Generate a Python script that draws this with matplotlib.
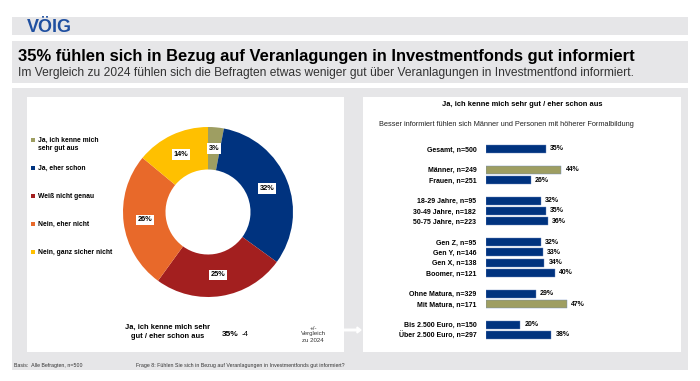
import matplotlib
matplotlib.use("Agg")
import numpy as np
import matplotlib.pyplot as plt
from matplotlib.patches import Rectangle, FancyArrow

plt.rcParams['font.family'] = ['Liberation Sans', 'DejaVu Sans']

# donut data
answer_labels = ['Ja, ich kenne mich\nsehr gut aus', 'Ja, eher schon', 'Weiß nicht genau',
                 'Nein, eher nicht', 'Nein, ganz sicher nicht']
answer_values = [3, 32, 25, 26, 14]
answer_colors = ['#9e9e62', '#00337f', '#a31f1f', '#e8692a', '#ffc000']

# bar data (share "Ja, sehr gut / eher schon")
bar_labels = ['Gesamt, n=500',
              'Männer, n=249', 'Frauen, n=251',
              '18-29 Jahre, n=95', '30-49 Jahre, n=182', '50-75 Jahre, n=223',
              'Gen Z, n=95', 'Gen Y, n=146', 'Gen X, n=138', 'Boomer, n=121',
              'Ohne Matura, n=329', 'Mit Matura, n=171',
              'Bis 2.500 Euro, n=150', 'Über 2.500 Euro, n=297']
bar_values = [35, 44, 26, 32, 35, 36, 32, 33, 34, 40, 29, 47, 20, 38]
bar_group = [0, 1, 1, 2, 2, 2, 3, 3, 3, 3, 4, 4, 5, 5]
bar_highlight = [False, True, False, False, False, False, False, False, False, False,
                 False, True, False, False]

total_value = 35
total_change = '-4'

W, H = 700, 381
fig = plt.figure(figsize=(W / 100, H / 100), dpi=100)
GRAY = '#e6e6e8'


def box(x0, y0, x1, y1, color, z=0):
    fig.patches.append(Rectangle((x0 / W, 1 - y1 / H), (x1 - x0) / W, (y1 - y0) / H,
                                 transform=fig.transFigure, color=color, lw=0, zorder=z))


def txt(x, y, s, **kw):
    kw.setdefault('va', 'center')
    fig.text(x / W, 1 - y / H, s, zorder=5, **kw)


def axes_px(x0, y0, x1, y1):
    a = fig.add_axes([x0 / W, 1 - y1 / H, (x1 - x0) / W, (y1 - y0) / H])
    a.set_zorder(3)
    return a


# background bands and panels
box(12, 17, 688, 35, GRAY)
box(12, 41, 688, 83, GRAY)
box(12, 88, 688, 370, GRAY)
box(27, 97, 344, 352, 'white')
box(363, 97, 681, 352, 'white')
fig.patches.append(FancyArrow(344 / W, 1 - 330 / H, 17 / W, 0, width=1.5 / H,
                              head_width=6 / H, head_length=4 / W, color='white',
                              transform=fig.transFigure, zorder=1, length_includes_head=True))

# header
txt(27, 27, 'VÖIG', fontsize=13, fontweight='bold', color='#1f4fa0')
txt(18, 56, '35% fühlen sich in Bezug auf Veranlagungen in Investmentfonds gut informiert',
    fontsize=11.85, fontweight='bold', color='black')
txt(18, 73, 'Im Vergleich zu 2024 fühlen sich die Befragten etwas weniger gut über '
    'Veranlagungen in Investmentfond informiert.', fontsize=8.65, color='#333333')

# donut
ax = axes_px(123, 127, 293, 297)
ax.pie(answer_values, colors=answer_colors, startangle=90, counterclock=False,
       radius=1, wedgeprops=dict(width=0.5, linewidth=0))
start = 90.0
for v in answer_values:
    mid = np.deg2rad(start - v * 3.6 / 2)
    ax.text(0.75 * np.cos(mid), 0.75 * np.sin(mid), f'{v}%', ha='center', va='center',
            fontsize=5.3, fontweight='bold',
            bbox=dict(facecolor='white', edgecolor='none', pad=1.3))
    start -= v * 3.6
ax.set_xlim(-1, 1)
ax.set_ylim(-1, 1)
ax.axis('off')

# legend
legend_y = [140, 168, 196, 224, 252]
for lab, col, y in zip(answer_labels, answer_colors, legend_y):
    box(31, y - 2, 35, y + 2, col, z=2)
    if '\n' in lab:
        txt(38, y - 3.5, lab, fontsize=4.9, fontweight='bold', va='top', linespacing=1.35)
    else:
        txt(38, y, lab, fontsize=4.9, fontweight='bold')

# summary under donut
txt(168, 332, 'Ja, ich kenne mich sehr\ngut / eher schon aus', fontsize=5.4,
    fontweight='bold', ha='center', linespacing=1.45)
txt(222, 334, f'{total_value}%', fontsize=6.0, fontweight='bold')
txt(242, 334, total_change, fontsize=5.6)
txt(313, 334, '+/-\nVergleich\nzu 2024', fontsize=4.4, ha='center', color='#333333',
    linespacing=1.25)

# footer
txt(14, 366, 'Basis:  Alle Befragten, n=500', fontsize=3.8, color='#333333')
txt(136, 366, 'Frage 8: Fühlen Sie sich in Bezug auf Veranlagungen in Investmentfonds '
    'gut informiert?', fontsize=3.8, color='#333333')

# right panel
txt(522, 105, 'Ja, ich kenne mich sehr gut / eher schon aus', fontsize=5.4,
    fontweight='bold', ha='center')
txt(506, 125, 'Besser informiert fühlen sich Männer und Personen mit höherer Formalbildung',
    fontsize=5.3, ha='center', color='#222222')

ypos = [i + g for i, g in enumerate(bar_group)]
px_per_row = (335 - 149) / (ypos[-1] - ypos[0])
bx = axes_px(486, 149 - px_per_row / 2, 486 + 50 * 1.714, 335 + px_per_row / 2)
cols = ['#9e9e62' if h else '#00337f' for h in bar_highlight]
bx.barh(ypos, bar_values, height=0.78, color=cols, edgecolor='#6a88c0', linewidth=0.3)
for y, v in zip(ypos, bar_values):
    bx.text(v + 2.5, y, f'{v}%', va='center', ha='left', fontsize=5.0, fontweight='bold')
bx.set_yticks(ypos)
bx.set_yticklabels(bar_labels, fontsize=5.0, fontweight='bold')
bx.tick_params(axis='y', length=0, pad=7)
bx.set_xlim(0, 50)
bx.set_ylim(ypos[-1] + 0.5, ypos[0] - 0.5)
bx.set_xticks([])
for s in bx.spines.values():
    s.set_visible(False)
bx.patch.set_alpha(0)

fig.savefig('out.png', dpi=100)
